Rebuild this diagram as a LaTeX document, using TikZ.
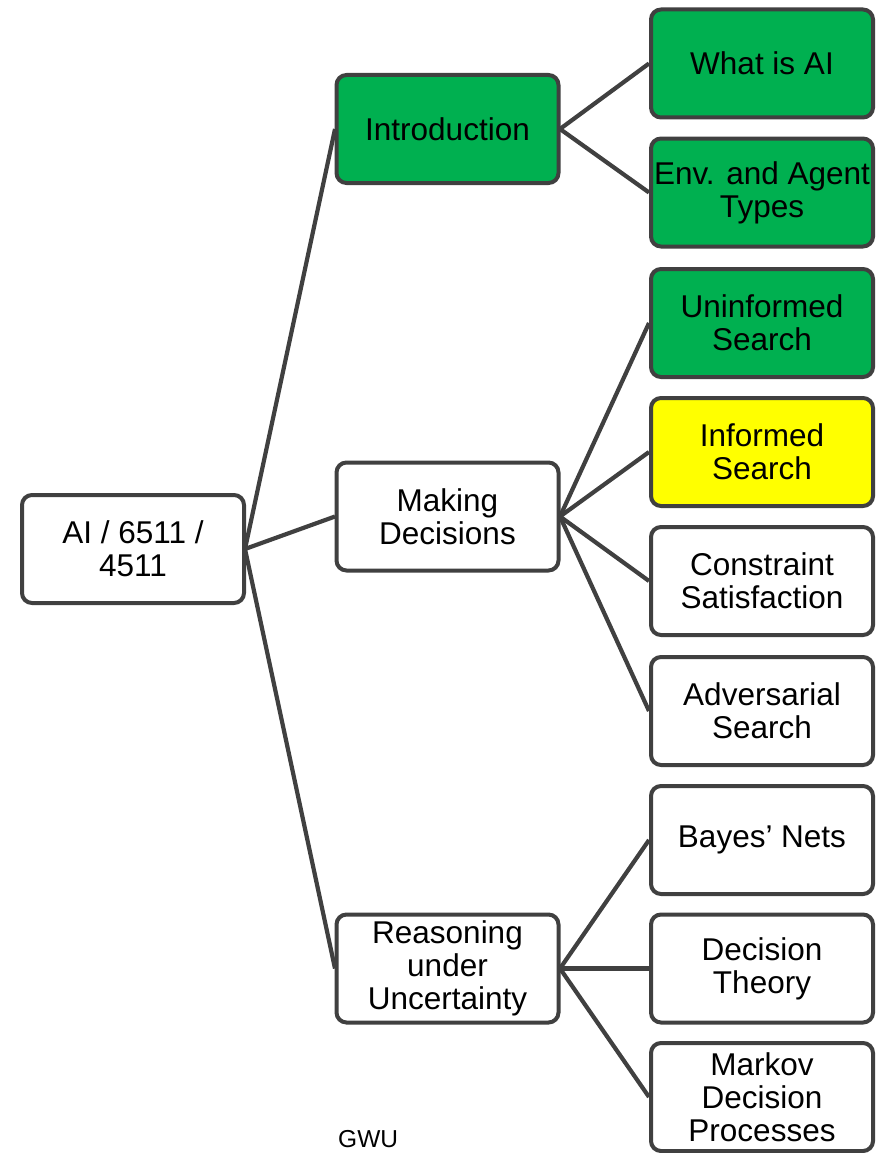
\documentclass[tikz,border=0pt]{standalone}
\usepackage{fontspec}
\setmainfont{Liberation Sans}
\begin{document}
\begin{tikzpicture}[x=1pt,y=-1pt,
  topic/.style={draw=edgegray, line width=4pt, rounded corners=10pt,
    minimum width=222pt, minimum height=108pt, inner sep=0pt,
    align=center, font=\fontsize{31.5}{33}\selectfont},
  done/.style={topic, fill=doneGreen},
  current/.style={topic, fill=nowYellow},
  todo/.style={topic, fill=white},
  link/.style={draw=edgegray, line width=4.2pt}]
\definecolor{edgegray}{HTML}{404040}
\definecolor{doneGreen}{HTML}{00B050}
\definecolor{nowYellow}{HTML}{FFFF00}
\useasboundingbox (0,0) rectangle (877,1153);
\clip (0,0) rectangle (877,1153);
\fill[white] (0,0) rectangle (877,1153);

% connectors (drawn first, boxes sit on top)
\coordinate (rootE) at (245,549);
\coordinate (introW) at (335,129);
\coordinate (introE) at (560,129);
\coordinate (decW) at (335,516.5);
\coordinate (decE) at (560,516.5);
\coordinate (reasW) at (335,968.5);
\coordinate (reasE) at (560,968.5);
\coordinate (aiW) at (649,63.5);
\coordinate (envW) at (649,192.5);
\coordinate (uninfW) at (649,323);
\coordinate (infW) at (649,452);
\coordinate (cspW) at (649,581);
\coordinate (advW) at (649,711);
\coordinate (bayesW) at (649,840);
\coordinate (dtW) at (649,968.5);
\coordinate (mdpW) at (649,1097);

\draw[link] (rootE) -- (introW);
\draw[link] (rootE) -- (decW);
\draw[link] (rootE) -- (reasW);
\draw[link] (introE) -- (aiW);
\draw[link] (introE) -- (envW);
\draw[link] (decE) -- (uninfW);
\draw[link] (decE) -- (infW);
\draw[link] (decE) -- (cspW);
\draw[link] (decE) -- (advW);
\draw[link] (reasE) -- (bayesW);
\draw[link] (reasE) -- (dtW);
\draw[link] (reasE) -- (mdpW);

% root
\node[todo] (root) at (133,549) {AI / 6511 /\\4511};

% middle column
\node[done] (intro) at (447.5,129) {Introduction};
\node[todo] (dec) at (447.5,516.5) {Making\\Decisions};
\node[todo] (reas) at (447.5,968.5) {Reasoning\\under\\Uncertainty};

% right column
\node[done] (ai) at (762,63.5) {What is AI};
\node[done] (env) at (762,192.5) {Env. and Agent\\Types};
\node[done] (uninf) at (762,323) {Uninformed\\Search};
\node[current] (inf) at (762,452) {Informed\\Search};
\node[todo] (csp) at (762,581) {Constraint\\Satisfaction};
\node[todo] (adv) at (762,711) {Adversarial\\Search};
\node[todo] (bayes) at (762,840) {Bayes’ Nets};
\node[todo] (dt) at (762,968.5) {Decision\\Theory};
\node[todo] (mdp) at (762,1097) {Markov\\Decision\\Processes};

% footer
\node[anchor=base west, inner sep=0pt, font=\fontsize{24.5}{26}\selectfont] (gwu) at (338,1147) {GWU};
\end{tikzpicture}
\end{document}
